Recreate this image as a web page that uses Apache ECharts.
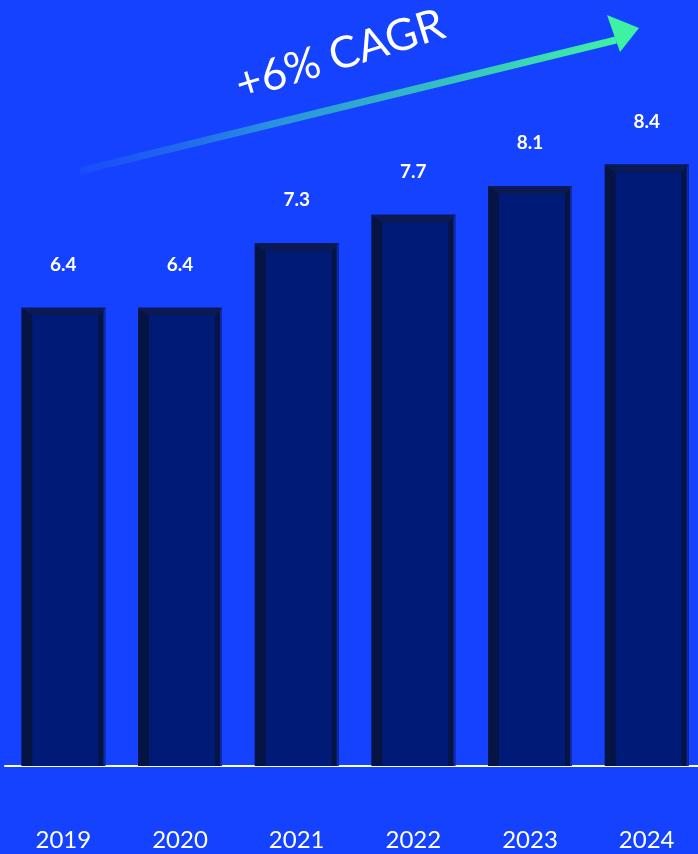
<!DOCTYPE html>
<html style="height: 100%">
<head>
    <meta charset="utf-8">
</head>
<body style="height: 100%; margin: 0; background: #1442ff; overflow: hidden">
    <div id="container" style="width: 710px; height: 854px"></div>
    <script src="https://cdn.jsdelivr.net/npm/echarts@6/dist/echarts.min.js"></script>
    <script type="text/javascript">
        // data
        var years = ['2019', '2020', '2021', '2022', '2023', '2024'];
        var values = [6.4, 6.4, 7.3, 7.7, 8.1, 8.4];
        var cagrText = '+6% CAGR';

        var dom = document.getElementById('container');
        var myChart = echarts.init(dom);

        // bevelled dark bar: outer frame + lighter inner panel + value on top
        function renderBar(params, api) {
            var top = api.coord([api.value(0), api.value(1)]);
            var base = api.coord([api.value(0), 0]);
            var w = api.size([1, 0])[0] * 0.72;
            var x = top[0] - w / 2;
            var h = base[1] - top[1];
            return {
                type: 'group',
                children: [{
                    type: 'rect',
                    shape: { x: x, y: top[1], width: w, height: h },
                    style: { fill: '#061444' }
                }, {
                    type: 'rect',
                    shape: { x: x + w - 2, y: top[1], width: 2, height: h },
                    style: { fill: '#0d2aa8' }
                }, {
                    type: 'polygon',
                    shape: { points: [[x, top[1]], [x + w, top[1]], [x + w - 7, top[1] + 8], [x + 11, top[1] + 8]] },
                    style: { fill: '#0b1a55' }
                }, {
                    type: 'rect',
                    shape: { x: x + 11, y: top[1] + 8, width: w - 18, height: h - 8 },
                    style: { fill: '#001a78' }
                }, {
                    type: 'text',
                    style: {
                        text: String(api.value(1)),
                        x: top[0],
                        y: top[1] - 43,
                        align: 'center',
                        verticalAlign: 'middle',
                        fill: '#ffffff',
                        font: 'bold 19px Lato'
                    }
                }]
            };
        }

        var option = {
            backgroundColor: '#1442ff',
            animation: false,
            grid: {
                left: 5,
                width: 700,
                top: 50,
                bottom: 88
            },
            xAxis: {
                type: 'category',
                data: years,
                axisLine: { lineStyle: { color: '#ffffff', width: 2 } },
                axisTick: { show: false },
                axisLabel: {
                    color: '#ffffff',
                    fontFamily: 'Lato',
                    fontSize: 24,
                    margin: 62
                }
            },
            yAxis: {
                type: 'value',
                min: 0,
                max: 10,
                show: false,
                splitLine: { show: false }
            },
            graphic: [{
                // trend arrow shaft
                type: 'line',
                shape: { x1: 80, y1: 171, x2: 616, y2: 40 },
                style: {
                    lineWidth: 7,
                    stroke: {
                        type: 'linear',
                        x: 0, y: 0, x2: 1, y2: 0,
                        colorStops: [
                            { offset: 0, color: 'rgba(40,110,230,0.2)' },
                            { offset: 0.35, color: '#2a8fe0' },
                            { offset: 1, color: '#3ff2a2' }
                        ],
                        global: false
                    }
                }
            }, {
                // arrow head
                type: 'polygon',
                shape: { points: [[607, 15], [639, 28], [620, 52]] },
                style: { fill: '#3ff2a2' }
            }, {
                type: 'text',
                x: 340,
                y: 55,
                rotation: 17 * Math.PI / 180,
                style: {
                    text: cagrText,
                    align: 'center',
                    verticalAlign: 'middle',
                    fill: '#ffffff',
                    font: '44px Lato'
                }
            }],
            series: [{
                type: 'custom',
                renderItem: renderBar,
                encode: { x: 0, y: 1 },
                data: years.map(function (y, i) {
                    return [i, values[i]];
                })
            }]
        };

        myChart.setOption(option);
    </script>
</body>
</html>
